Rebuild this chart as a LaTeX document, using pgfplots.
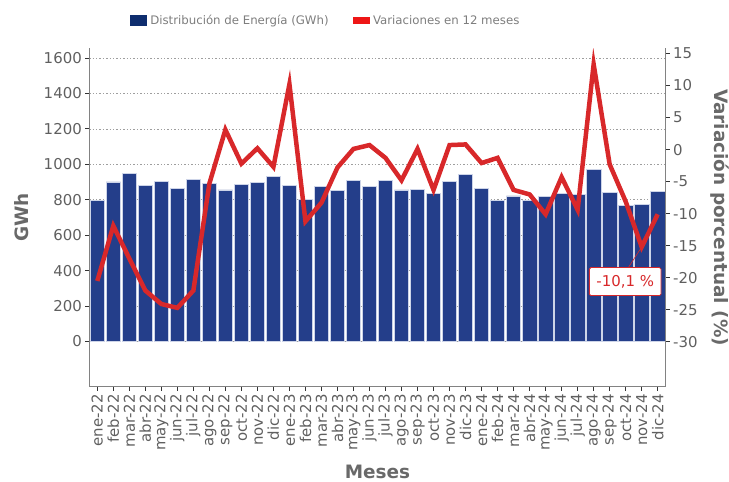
\documentclass[border=0pt]{standalone}
\usepackage{fontspec}
\setmainfont{DejaVu Sans}
\usepackage{pgfplots}
\pgfplotsset{compat=1.18}
\definecolor{barblue}{RGB}{36,62,138}
\definecolor{baredge}{RGB}{205,212,232}
\definecolor{legblue}{RGB}{14,45,110}
\definecolor{legred}{RGB}{238,22,22}
\definecolor{linered}{RGB}{216,40,42}
\definecolor{tickgray}{RGB}{95,95,95}
\definecolor{labgray}{RGB}{105,105,105}
\definecolor{leggray}{RGB}{125,125,125}
\definecolor{axisgray}{RGB}{130,130,130}
\begin{document}
\begin{tikzpicture}
\pgfplotsset{
  common/.style={
    at={(0,0)}, anchor=south west,
    scale only axis, width=576.4bp, height=338.4bp,
    xmin=-0.5, xmax=35.5,
    tick align=outside, major tick length=4bp,
    tick style={draw=black!80, line width=0.9bp},
    axis line style={draw=axisgray, line width=0.8bp, -},
    y tick label style={font=\fontsize{15}{17}\selectfont, text=tickgray},
  }
}
\begin{axis}[common,
  ymin=-255, ymax=1655,
  axis x line*=bottom, axis y line*=left,
  xtick={0,...,35},
  xticklabels={ene-22,feb-22,mar-22,abr-22,may-22,jun-22,jul-22,ago-22,sep-22,oct-22,nov-22,dic-22,
    ene-23,feb-23,mar-23,abr-23,may-23,jun-23,jul-23,ago-23,sep-23,oct-23,nov-23,dic-23,
    ene-24,feb-24,mar-24,abr-24,may-24,jun-24,jul-24,ago-24,sep-24,oct-24,nov-24,dic-24},
  x tick label style={rotate=90, anchor=east, font=\fontsize{15}{17}\selectfont, text=tickgray},
  ytick={0,200,400,600,800,1000,1200,1400,1600},
  yticklabels={0,200,400,600,800,1000,1200,1400,1600},
  ymajorgrids, grid style={dash pattern=on 1.4bp off 2bp, draw=black!38, line width=0.7bp},
  xlabel={Meses}, ylabel={GWh},
  every axis x label/.style={at={(axis description cs:0.5,-0.232)}, anchor=north, inner sep=0pt,
    font=\bfseries\fontsize{18.5}{20}\selectfont, text=labgray},
  every axis y label/.style={at={(axis description cs:-0.118,0.5)}, anchor=center, rotate=90,
    font=\bfseries\fontsize{18.5}{20}\selectfont, text=labgray},
  legend style={at={(axis description cs:0.41,1.0826)}, anchor=center, draw=none, fill=none,
    font=\fontsize{11.8}{14}\selectfont, text=leggray,
    /tikz/every even column/.append style={column sep=22bp},
    /tikz/every odd column/.append style={column sep=2bp}},
  legend columns=2,
]
\addlegendimage{legend image code/.code={\fill[legblue] (0bp,-5bp) rectangle (16bp,5bp);}}
\addlegendentry{Distribución de Energía (GWh)}
\addlegendimage{legend image code/.code={\fill[legred] (0bp,-3bp) rectangle (16bp,3bp);}}
\addlegendentry{Variaciones en 12 meses}
\addplot[ybar, bar width=14.5bp, bar shift=0pt, fill=barblue, draw=baredge, line width=0.7bp, forget plot] coordinates {
(0,794) (1,901) (2,950) (3,879) (4,905) (5,864) (6,916) (7,894) (8,856) (9,886) (10,896) (11,933)
(12,881) (13,804) (14,875) (15,853) (16,909) (17,873) (18,909) (19,856) (20,860) (21,836) (22,905) (23,943)
(24,862) (25,796) (26,822) (27,794) (28,819) (29,838) (30,828) (31,973) (32,843) (33,770) (34,772) (35,849)};
\end{axis}
\begin{axis}[common,
  ymin=-37.0, ymax=15.8,
  axis x line=none, axis y line*=right,
  ytick={-30,-25,-20,-15,-10,-5,0,5,10,15},
  yticklabels={-30,-25,-20,-15,-10,-5,0,5,10,15},
  y tick label style={anchor=west},
  ylabel={Variación porcentual (\%)},
  every axis y label/.style={at={(axis description cs:1.094,0.5)}, anchor=center, rotate=-90,
    font=\bfseries\fontsize{18.5}{20}\selectfont, text=labgray},
]
\addplot[draw=linered, line width=4.5bp, line join=miter, mark=none] coordinates {
(0,-20.5) (1,-11.9) (2,-17.0) (3,-22.0) (4,-24.1) (5,-24.7) (6,-22.0) (7,-5.3) (8,3.1) (9,-2.2) (10,0.2) (11,-2.7)
(12,10.2) (13,-11.2) (14,-8.3) (15,-2.8) (16,0.1) (17,0.7) (18,-1.3) (19,-4.8) (20,0.1) (21,-6.3) (22,0.7) (23,0.8)
(24,-2.1) (25,-1.3) (26,-6.3) (27,-7.0) (28,-10.1) (29,-4.3) (30,-9.4) (31,13.3) (32,-2.3) (33,-8.1) (34,-15.2) (35,-10.1)};
\draw[linered, line width=0.6bp] (axis cs:33.17,-18.4) -- (axis cs:34,-15.2);
\node[draw=linered, line width=0.8bp, fill=white, rounded corners=1.5bp, text=linered,
  font=\fontsize{15}{17}\selectfont, inner xsep=7bp, minimum height=28bp]
  at (axis cs:32.97,-20.6) {-10,1 \%};
\end{axis}
\pgfresetboundingbox
\path[use as bounding box] (-89.3bp,-95.3bp) rectangle (639.7bp,386.7bp);
\end{tikzpicture}
\end{document}
